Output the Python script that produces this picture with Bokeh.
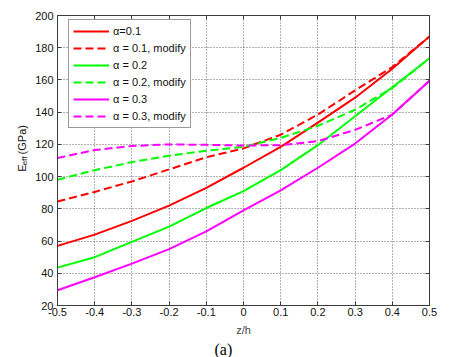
import math
from bokeh.plotting import figure
from bokeh.layouts import row
from bokeh.models import Label, LinearAxis, FixedTicker, Range1d, Title
from bokeh.embed import file_html
from bokeh.resources import INLINE

# ---- data ----
z = [-0.5, -0.4, -0.3, -0.2, -0.1, 0.0, 0.1, 0.2, 0.3, 0.4, 0.5]
E_a01 = [57, 64, 72.5, 82, 93, 105.5, 118.5, 133.5, 149, 167, 187]
E_a01_mod = [84.5, 90.5, 97, 104.5, 112, 117.5, 126, 138.5, 153.5, 168, 187]
E_a02 = [43.5, 50, 59.5, 69, 80.5, 91, 104, 119.5, 137.5, 155.5, 173.5]
E_a02_mod = [98, 104, 109, 113, 116, 118.5, 124, 131.5, 141.5, 155, 173.5]
E_a03 = [29.5, 37.5, 46, 55, 66, 79, 91.5, 105.5, 120.5, 138.5, 159.5]
E_a03_mod = [111.5, 116.5, 119, 120, 119.7, 119.3, 119.5, 122, 129, 138.5, 159.5]

series_names = ["\u03b1=0.1", "\u03b1 = 0.1, modify", "\u03b1 = 0.2",
                "\u03b1 = 0.2, modify", "\u03b1 = 0.3", "\u03b1 = 0.3, modify"]
series_colors = ["#ff0000", "#ff0000", "#00ff00", "#00ff00", "#ff00ff", "#ff00ff"]
series_dash = ["solid", "8 4", "solid", "8 4", "solid", "8 4"]

x_ticks = [-0.5, -0.4, -0.3, -0.2, -0.1, 0.0, 0.1, 0.2, 0.3, 0.4, 0.5]
x_tick_labels = ["-0.5", "-0.4", "-0.3", "-0.2", "-0.1", "0", "0.1", "0.2", "0.3", "0.4", "0.5"]
y_ticks = [20, 40, 60, 80, 100, 120, 140, 160, 180, 200]

FONT = "Liberation Sans"
AX = "#3c3c3c"
TXT = "#111111"

# ---- strip on the left that carries the y-axis title E_eff (GPa) ----
LW = 30
lab = figure(width=LW, height=357, x_range=Range1d(0, LW), y_range=Range1d(357, 0),
             output_backend="svg", toolbar_location=None, min_border=0,
             x_axis_location=None, y_axis_location=None)
lab.outline_line_color = None
lab.background_fill_color = "white"
lab.border_fill_color = "white"
for g in lab.grid:
    g.visible = False
lab.add_layout(Label(x=21, y=192.5, text="E", angle=math.pi / 2, text_font=FONT,
                     text_font_size="11px", text_align="left", text_baseline="alphabetic",
                     text_color=TXT))
lab.add_layout(Label(x=23.7, y=184.5, text="eff", angle=math.pi / 2, text_font=FONT,
                     text_font_size="8px", text_align="left", text_baseline="alphabetic",
                     text_color=TXT))
lab.add_layout(Label(x=21, y=171, text="(GPa)", angle=math.pi / 2, text_font=FONT,
                     text_font_size="11px", text_align="left", text_baseline="alphabetic",
                     text_color=TXT))

# ---- main plot ----
p = figure(width=467 - LW, height=357, x_range=Range1d(-0.5, 0.5), y_range=Range1d(20, 200),
           output_backend="svg", toolbar_location=None,
           min_border_left=57 - LW, min_border_right=38, min_border_top=15, min_border_bottom=49)
p.background_fill_color = "white"
p.border_fill_color = "white"
p.outline_line_color = AX
p.outline_line_width = 1

all_series = [E_a01, E_a01_mod, E_a02, E_a02_mod, E_a03, E_a03_mod]
for ys, name, col, dash in zip(all_series, series_names, series_colors, series_dash):
    p.line(z, ys, line_color=col, line_width=2, line_dash=dash, legend_label=name)

def style_axis(ax, show_labels=True):
    ax.axis_line_color = AX
    ax.major_tick_line_color = AX
    ax.major_tick_in = 4
    ax.major_tick_out = 0
    ax.minor_tick_line_color = None
    ax.major_label_text_font = FONT
    if show_labels:
        ax.major_label_text_color = TXT
        ax.major_label_text_font_size = "11px"
    else:
        ax.major_label_text_color = None
        ax.major_label_text_font_size = "1px"
        ax.major_label_standoff = 0

p.xaxis.ticker = FixedTicker(ticks=x_ticks)
p.xaxis.major_label_overrides = {t: l for t, l in zip(x_ticks, x_tick_labels)}
p.yaxis.ticker = FixedTicker(ticks=y_ticks)
style_axis(p.xaxis[0])
style_axis(p.yaxis[0])
p.xaxis.major_label_standoff = 2
p.yaxis.major_label_standoff = 4
p.xaxis.axis_label = "z/h"
p.xaxis.axis_label_text_font = FONT
p.xaxis.axis_label_text_font_size = "11px"
p.xaxis.axis_label_text_font_style = "normal"
p.xaxis.axis_label_standoff = 5

top_ax = LinearAxis(ticker=FixedTicker(ticks=x_ticks))
style_axis(top_ax, False)
p.add_layout(top_ax, "above")
right_ax = LinearAxis(ticker=FixedTicker(ticks=y_ticks))
style_axis(right_ax, False)
p.add_layout(right_ax, "right")

p.grid.grid_line_color = "#404040"
p.grid.grid_line_dash = "1 2"
p.grid.grid_line_width = 1
p.grid.grid_line_alpha = 0.8
p.xgrid.ticker = FixedTicker(ticks=x_ticks)
p.ygrid.ticker = FixedTicker(ticks=y_ticks)

# panel caption
p.add_layout(Title(text="(a)", align="left", offset=157, standoff=0,
                   text_font="Liberation Serif", text_font_size="16px",
                   text_font_style="normal", text_color="#000000"), "below")

lg = p.legend[0]
lg.location = (11, 177)
lg.label_text_font = FONT
lg.label_text_font_size = "11px"
lg.label_text_color = TXT
lg.glyph_width = 36
lg.glyph_height = 14
lg.label_height = 14
lg.label_standoff = 4
lg.spacing = 3
lg.padding = 4
lg.margin = 0
lg.border_line_color = "#333333"
lg.border_line_width = 1
lg.background_fill_color = "white"
lg.background_fill_alpha = 1.0

layout = row(lab, p, spacing=0)
open("out.html", "w").write(file_html(layout, INLINE))
